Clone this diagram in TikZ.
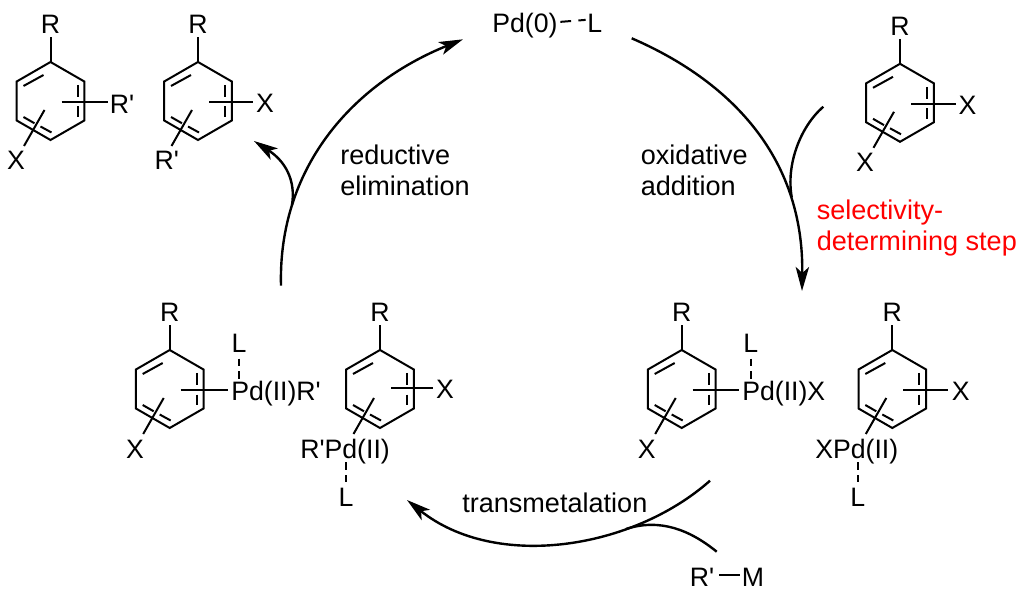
\documentclass[tikz,border=0pt]{standalone}
\usepackage{fontspec}
\newfontfamily\chemf{Liberation Sans}
\usetikzlibrary{arrows.meta}
\tikzset{
  bond/.style={line width=1.5pt,line cap=butt,line join=miter},
  dashbond/.style={line width=1.5pt,dash pattern=on 5.5pt off 4pt},
  atom/.style={inner sep=0pt,anchor=base,font=\chemf\fontsize{20}{24}\selectfont},
  atomw/.style={inner sep=0pt,anchor=base west,font=\chemf\fontsize{20}{24}\selectfont},
  lab/.style={inner sep=0pt,anchor=base west,align=left,font=\chemf\fontsize{20.3}{23.3}\selectfont},
  cyc/.style={line width=1.8pt},
  cycarrow/.style={line width=1.8pt,-{Stealth[length=18pt,width=10pt,inset=4.5pt]}},
}
% name, cx, cy, right bond length, right bond y offset
\newcommand{\arene}[5]{%
\begin{scope}[shift={(#2,#3)}]
  \coordinate (#1-1) at (0,-39);
  \coordinate (#1-2) at (33.8,-19.5);
  \coordinate (#1-3) at (33.8,19.5);
  \coordinate (#1-4) at (0,39);
  \coordinate (#1-5) at (-33.8,19.5);
  \coordinate (#1-6) at (-33.8,-19.5);
  \coordinate (#1-a) at (11,#5);
  \coordinate (#1-b) at (#4,#5);
  \coordinate (#1-c) at (-6,9);
  \coordinate (#1-d) at (-26.5,45);
  \node[atom] (#1-R) at (0,-67.5) {R};
  \draw[bond] (#1-1) -- (#1-2) -- (#1-3) -- (#1-4) -- (#1-5) -- (#1-6) -- cycle;
  \draw[bond,shorten >=2.5pt] (#1-1) -- (#1-1 |- #1-R.south);
  \draw[bond] (-27,-15) -- (-7,-26);
  \draw[bond] (27,-16) -- (27,-3.5);
  \draw[bond] (27,5.5) -- (27,16);
  \draw[bond] (-27,16) -- (-16,22.3);
  \draw[bond] (-10,25.5) -- (1,31.5);
  \draw[bond] (#1-a) -- (#1-b);
  \draw[bond] (#1-c) -- (#1-d);
\end{scope}}
\begin{document}
\begin{tikzpicture}[x=0.75pt,y=-0.75pt]
\useasboundingbox (0,0) rectangle (1024,598);
% rings
\arene{A}{50.5}{101}{57.5}{1.5}
\arene{B}{198}{101}{55}{1}
\arene{C}{169.7}{389}{58}{1}
\arene{D}{380}{389}{53}{-1}
\arene{E}{681.7}{389}{57}{1}
\arene{F}{892.3}{389}{55.7}{1}
\arene{G}{900}{102.8}{56}{1.5}
% labels of the rings
\node[atom] (A-r) at (122,113.3) {R'};
\node[atom] (A-x) at (16,170) {X};
\node[atom] (B-x) at (265,112.3) {X};
\node[atom] (B-r) at (166.7,170) {R'};
\node[atom] (C-x) at (135,458) {X};
\node[atomw] (C-Pd) at (231,400) {Pd(II)R'};
\node[atom] (C-L) at (239,353) {L};
\node[atom] (D-x) at (445,398) {X};
\node[atomw] (D-Pd) at (300,458) {R'Pd(II)};
\node[atom] (D-L) at (346,506) {L};
\node[atom] (E-x) at (646.7,458) {X};
\node[atomw] (E-Pd) at (742,400.7) {Pd(II)X};
\node[atom] (E-L) at (750.7,353) {L};
\node[atom] (F-x) at (960.7,400.7) {X};
\node[atomw] (F-Pd) at (815,458) {XPd(II)};
\node[atom] (F-L) at (857.7,506) {L};
\node[atom] (G-x) at (967.5,115) {X};
\node[atom] (G-y) at (865,171.7) {X};
% Pd-L dashed bonds
\draw[dashbond,shorten <=4pt,shorten >=1pt] (C-L.south) -- (C-L |- C-Pd.north);
\draw[dashbond,shorten <=4pt,shorten >=1pt] (E-L.south) -- (E-L |- E-Pd.north);
\draw[dashbond,shorten <=-1pt,shorten >=4pt] (D-L |- D-Pd.south) -- (D-L.north);
\draw[dashbond,shorten <=-1pt,shorten >=4pt] (F-L |- F-Pd.south) -- (F-L.north);
% Pd(0)--L
\node[atomw] (pd0) at (492,32.3) {Pd(0)};
\node[atomw] (pd0L) at (587,32.3) {L};
\draw[bond,dash pattern=on 8pt off 5.5pt,shorten <=2pt,shorten >=1pt] ([yshift=2.5pt]pd0.east) -- ([yshift=2.5pt]pd0L.west);
% R'-M
\node[atom] (rp) at (702,586) {R'};
\node[atom] (m) at (753,586) {M};
\draw[bond,shorten <=3.5pt,shorten >=1.5pt] ([yshift=1.5pt]rp.east) -- ([yshift=1.5pt]m.west);
% captions
\node[lab] (ox) at (640.6,196) {oxidative\\addition};
\node[lab] (re) at (340,196) {reductive\\elimination};
\node[lab] (tm) at (462,512) {transmetalation};
\node[lab,text=red] (sel) at (816.5,251) {selectivity-\\determining step};
% cycle
\coordinate (ox0) at (631.7,38.3);
\coordinate (ox1) at (802,291);
\coordinate (re0) at (281,285.7);
\coordinate (re1) at (463,39.3);
\coordinate (tm0) at (710,480.7);
\coordinate (tm1) at (407,500);
\coordinate (g0) at (823.3,106.7);
\coordinate (g1) at (791.7,197);
\coordinate (el0) at (292,205);
\coordinate (el1) at (254,141);
\coordinate (rm0) at (716.7,551.7);
\coordinate (rm1) at (626,529);
\draw[cycarrow] (ox0) .. controls (728,80) and (804,155) .. (ox1);
\draw[cyc] (g0) .. controls (800,127) and (786,165) .. (g1);
\draw[cycarrow] (re0) .. controls (278,170) and (350,85) .. (re1);
\draw[cycarrow] (el0) .. controls (296,180) and (285,161) .. (el1);
\draw[cycarrow] (tm0) .. controls (633,549) and (496,571) .. (tm1);
\draw[cyc] (rm0) .. controls (690,530) and (660,518) .. (rm1);
\end{tikzpicture}
\end{document}
